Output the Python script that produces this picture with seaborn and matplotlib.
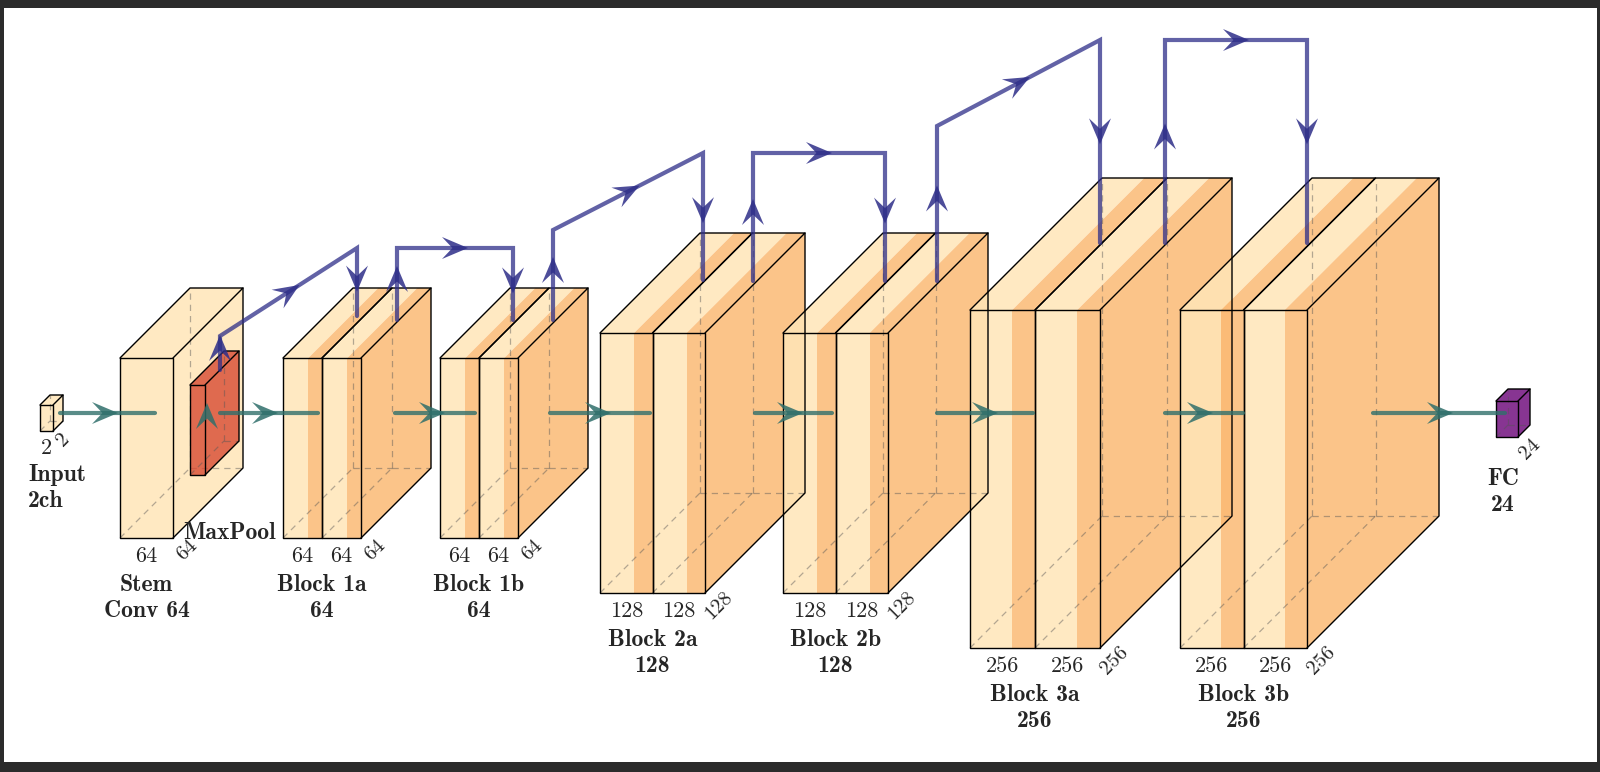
import numpy as np
import pandas as pd
import matplotlib.pyplot as plt
import seaborn as sns
from matplotlib.patches import Polygon

sns.set_theme(style='white')

# ---- diagram content ----
block_names = ['Stem\nConv 64', 'Block 1a\n64', 'Block 1b\n64', 'Block 2a\n128',
               'Block 2b\n128', 'Block 3a\n256', 'Block 3b\n256']
block_dims = ['64', '64', '64', '128', '128', '256', '256']
# layout (pixel space): front-left x, front width per slab, front height, depth offset, slabs
block_x = [120, 283, 440, 600, 783, 970, 1180]
block_w = [53, 39, 39, 52.5, 52.5, 65, 63.5]
block_h = [180, 180, 180, 260, 260, 338, 338]
block_d = [70, 70, 70, 100, 100, 132, 132]
block_n = [1, 2, 2, 2, 2, 2, 2]

# teal main-path connections: start x, end x, arrowhead x
conn_start = [60, 220, 395, 550, 755, 937, 1165, 1373]
conn_end = [155, 318, 475, 650, 832, 1033, 1243, 1505]
conn_head = [105, 265, 432, 598, 790, 985, 1200, 1440]

# blue skip connections (pixel polylines)
skips = [
    [(220, 372), (220, 338), (357, 250), (357, 318)],
    [(397, 322), (397, 250), (513, 250), (513, 322)],
    [(553, 322), (553, 232), (703, 155), (703, 282)],
    [(753, 283), (753, 155), (885, 155), (885, 283)],
    [(937, 283), (937, 128), (1100, 42), (1100, 245)],
    [(1165, 245), (1165, 42), (1307, 42), (1307, 245)],
]

CY = 415
LIGHT, BAND = '#FFE6B8', '#FBBA74'
TEAL, BLUE = '#2F6F6B', '#2E2E88'

fig = plt.figure(figsize=(16, 7.72), dpi=100, facecolor='#2b2b2b')
ax = fig.add_axes([4 / 1600, 10 / 772, 1593 / 1600, 754 / 772])
ax.axis('off')
ax.add_patch(Polygon([(4, 10), (1597, 10), (1597, 764), (4, 764)], closed=True,
                     facecolor='white', edgecolor='none', zorder=0))

serif = 'cmr10'
bold = 'cmb10'


def poly(pts, color, alpha, z):
    ax.add_patch(Polygon(pts, closed=True, facecolor=color, edgecolor='none', alpha=alpha, zorder=z))


def cuboid(x, w, h, d, light, band, frac=0.35, side=None, alpha=0.85, z=2, draw_side=True):
    yt = CY + d / 2 - h / 2
    yb = CY + d / 2 + h / 2
    xs = x + w * (1 - frac)
    side = side or band
    # hidden edges
    kw = dict(color='#555555', lw=0.9, ls=(0, (5, 4)), alpha=0.45, zorder=z + 0.05)
    ax.plot([x, x + d], [yb, yb - d], **kw)
    ax.plot([x + d, x + d], [yb - d, yt - d], **kw)
    ax.plot([x + d, x + w + d], [yb - d, yb - d], **kw)
    # faces
    if draw_side:
        poly([(x + w, yt), (x + w + d, yt - d), (x + w + d, yb - d), (x + w, yb)], side, alpha, z)
    poly([(x, yt), (xs, yt), (xs + d, yt - d), (x + d, yt - d)], light, alpha, z)
    poly([(xs, yt), (x + w, yt), (x + w + d, yt - d), (xs + d, yt - d)], band, alpha, z)
    poly([(x, yt), (xs, yt), (xs, yb), (x, yb)], light, alpha, z)
    poly([(xs, yt), (x + w, yt), (x + w, yb), (xs, yb)], band, alpha, z)
    # edges
    k = dict(color='black', lw=1.0, zorder=z + 0.1)
    ax.plot([x, x + w, x + w, x, x], [yt, yt, yb, yb, yt], **k)
    ax.plot([x, x + d, x + w + d, x + w], [yt, yt - d, yt - d, yt], **k)
    if draw_side:
        ax.plot([x + w + d, x + w + d, x + w], [yt - d, yb - d, yb], **k)
    return yt, yb


def head(x, y, dx, dy, color, L=26, W=11, alpha=0.85, z=6):
    n = np.hypot(dx, dy)
    ux, uy = dx / n, dy / n
    px, py = -uy, ux
    tip = (x + ux * L / 2, y + uy * L / 2)
    bx, by = tip[0] - ux * L, tip[1] - uy * L
    notch = (tip[0] - ux * L * 0.6, tip[1] - uy * L * 0.6)
    ax.add_patch(Polygon([tip, (bx + px * W, by + py * W), notch, (bx - px * W, by - py * W)],
                         closed=True, facecolor=color, edgecolor='none', alpha=alpha, zorder=z))


# input cube
yt, yb = cuboid(40, 13, 26, 10, LIGHT, LIGHT, frac=0.0, side=LIGHT)
ax.text(46, yb + 17, '2', ha='center', va='center', fontsize=16, family=serif)
ax.text(63, yb + 9, '2', ha='center', va='center', fontsize=15, family=serif, rotation=45)
ax.text(28, 490, 'Input\n2ch', ha='left', va='center', fontsize=17, family=bold, linespacing=1.2)

# conv blocks
for name, dim, x0, w, h, d, n in zip(block_names, block_dims, block_x, block_w, block_h, block_d, block_n):
    for i in range(n):
        if n == 1:
            yt, yb = cuboid(x0, w, h, d, LIGHT, LIGHT, frac=0.0, side=LIGHT)
        else:
            yt, yb = cuboid(x0 + i * w, w, h, d, LIGHT, BAND, draw_side=(i == n - 1))
        ax.text(x0 + i * w + w / 2, yb + 18, dim, ha='center', va='center', fontsize=16, family=serif)
    xr = x0 + n * w
    ax.text(xr + 14, yb + 12, dim, ha='center', va='center', fontsize=15, family=serif, rotation=45)
    ax.text(x0 + n * w / 2, yb + 60, name, ha='center', va='center', fontsize=17, family=bold,
            linespacing=1.2)

# max pool
yt, yb = cuboid(190, 15, 90, 34, '#D84A33', '#D84A33', frac=0.0, side='#D84A33', alpha=0.8, z=3)
ax.text(230, 535, 'MaxPool', ha='center', va='center', fontsize=17, family=bold)

# fc
yt, yb = cuboid(1496, 22, 36, 12, '#7A1F86', '#7A1F86', frac=0.0, side='#7A1F86', alpha=0.9, z=3)
ax.text(1530, yb + 12, '24', ha='center', va='center', fontsize=15, family=serif, rotation=45)
ax.text(1503, 494, 'FC\n24', ha='center', va='center', fontsize=17, family=bold, linespacing=1.2)

# teal main path via seaborn
conn = pd.DataFrame({
    'x': [v for pair in zip(conn_start, conn_end) for v in pair],
    'y': [CY] * (2 * len(conn_start)),
    'seg': [i for i in range(len(conn_start)) for _ in range(2)],
})
sns.lineplot(data=conn, x='x', y='y', units='seg', estimator=None, color=TEAL,
             lw=3, alpha=0.8, ax=ax, zorder=5, sort=False)
for hx in conn_head:
    head(hx, CY, 1, 0, TEAL)
head(207, 418, 0, -1, TEAL)

# blue skip paths
for path in skips:
    xs = [p[0] for p in path]
    ys = [p[1] for p in path]
    ax.plot(xs, ys, color=BLUE, lw=3, alpha=0.75, zorder=7, solid_joinstyle='miter')
    (x0, y0), (x1, y1), (x2, y2), (x3, y3) = path
    head(x0, (y0 + y1) / 2 - 5, 0, -1, BLUE, z=8)
    head((x1 + x2) / 2, (y1 + y2) / 2, x2 - x1, y2 - y1, BLUE, z=8)
    head(x3, y2 + (y3 - y2) * 0.45, 0, 1, BLUE, z=8)

ax.set_xlim(4, 1597)
ax.set_ylim(764, 10)
fig.savefig('out.png', dpi=100, facecolor=fig.get_facecolor())
